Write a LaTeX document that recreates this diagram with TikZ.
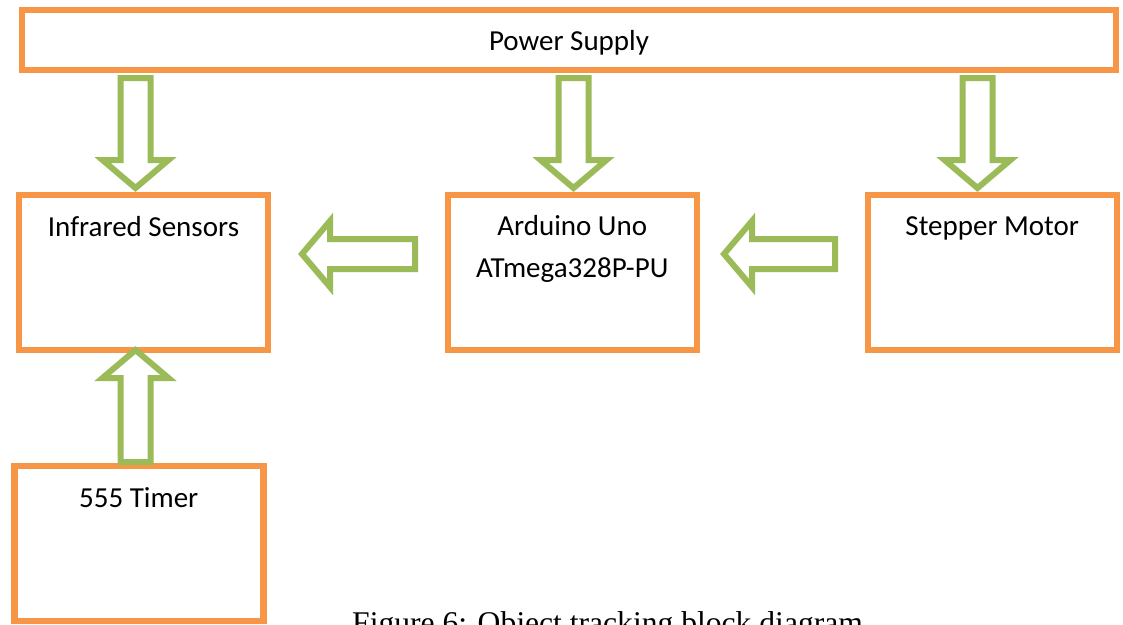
\documentclass[tikz,border=0pt]{standalone}
\usepackage{fontspec}
\setmainfont{Carlito}
\newfontfamily\capfont{Liberation Serif}
\usetikzlibrary{calc}
\definecolor{boxorange}{HTML}{F79646}
\definecolor{flowgreen}{HTML}{9BBB59}

\tikzset{
  block/.style={draw=boxorange, line width=6.5pt, rectangle, minimum width=249pt,
                minimum height=155pt, inner sep=0pt, outer sep=0pt},
  lbl/.style={font=\fontsize{29}{35}\selectfont, inner sep=0pt, anchor=base},
  flow/.style={draw=flowgreen, line width=6pt, line join=miter, fill=white},
}

% hollow block arrow from #1 (tail) to #2 (tip)
\newcommand\flowarrow[2]{%
  \coordinate (hb) at ($(#2)!28pt!(#1)$);
  \draw[flow] ($(#1)!15pt!90:(#2)$) -- ($(hb)!15pt!-90:(#1)$)
    -- ($(hb)!33pt!-90:(#1)$) -- (#2) -- ($(hb)!33pt!90:(#1)$)
    -- ($(hb)!15pt!90:(#1)$) -- ($(#1)!15pt!-90:(#2)$) -- cycle;
}

\begin{document}
\begin{tikzpicture}[x=1pt,y=-1pt]
\useasboundingbox (0,0) rectangle (1123,624);
\clip (0,0) rectangle (1123,624);

% blocks
\node[block, minimum width=1094pt, minimum height=60pt] (ps) at (569,40) {};
\node[block] (ir)  at (143.5,272.5) {};
\node[block] (ard) at (572.25,272.5) {};
\node[block] (st)  at (992.25,272.5) {};
\node[block] (tm)  at (138.75,543.5) {};

% block labels
\node[lbl] (psl)   at ([yshift=-40pt]ps.north)  {Power Supply};
\node[lbl] (irl)   at ([yshift=-41pt]ir.north)  {Infrared Sensors};
\node[lbl] (ardl1) at ([yshift=-40pt]ard.north) {Arduino Uno};
\node[lbl] (ardl2) at ([yshift=-82pt]ard.north) {ATmega328P-PU};
\node[lbl] (stl)   at ([yshift=-40pt]st.north)  {Stepper Motor};
\node[lbl] (tml)   at ([yshift=-41pt]tm.north)  {555 Timer};

% arrow end points
\coordinate (p1) at (135.5,78);  \coordinate (q1) at (135.5,188);
\coordinate (p2) at (573.5,78);  \coordinate (q2) at (573.5,188);
\coordinate (p3) at (977.5,78);  \coordinate (q3) at (977.5,188);
\coordinate (p4) at (135.5,462); \coordinate (q4) at (135.5,350);
\coordinate (p5) at (415,254);   \coordinate (q5) at (302,254);
\coordinate (p6) at (835,254);   \coordinate (q6) at (724,254);

\flowarrow{p1}{q1}
\flowarrow{p2}{q2}
\flowarrow{p3}{q3}
\flowarrow{p4}{q4}
\flowarrow{p5}{q5}
\flowarrow{p6}{q6}

% caption
\node[font=\capfont\fontsize{31.6}{38}\selectfont, anchor=base west, inner sep=0pt]
  (cap) at (352,633) {Figure 6: Object tracking block diagram};
\end{tikzpicture}
\end{document}
